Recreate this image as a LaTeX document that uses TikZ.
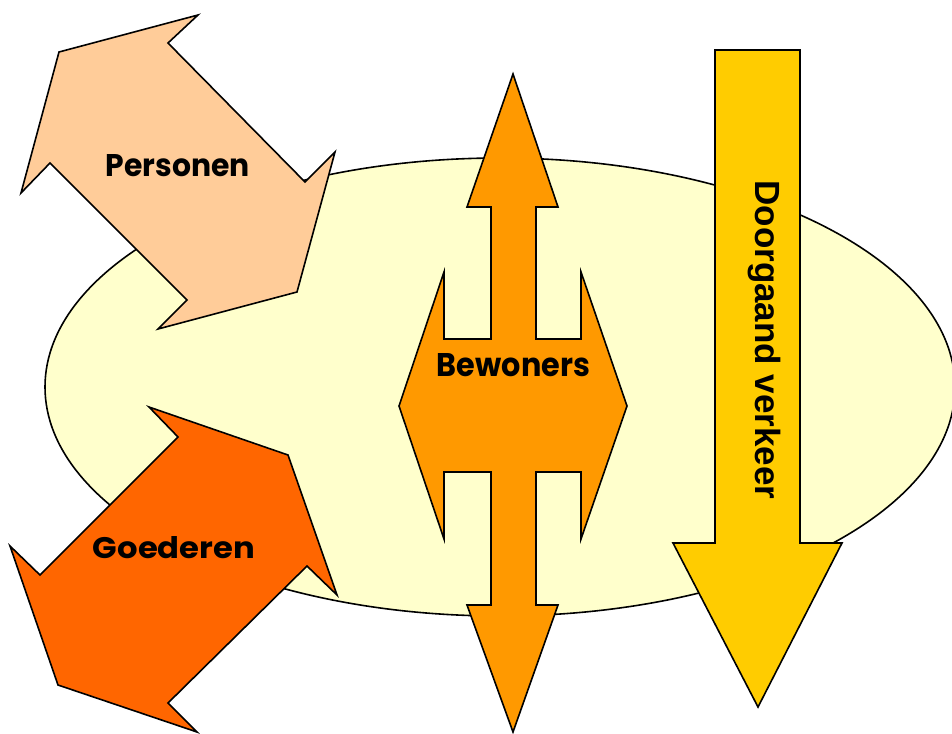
\documentclass[tikz,border=0pt]{standalone}
\usepackage{fontspec}
\setmainfont{Liberation Sans}
\newfontfamily\gothic{Poppins}
\usepackage{graphicx}
\definecolor{ellfill}{HTML}{FFFFCC}
\definecolor{persfill}{HTML}{FFCC99}
\definecolor{goedfill}{HTML}{FF6600}
\definecolor{bewfill}{HTML}{FF9900}
\definecolor{doorfill}{HTML}{FFCC00}
\begin{document}
\begin{tikzpicture}[x=1pt,y=-1pt,
  shp/.style={draw=black, line width=1.6pt, line join=miter, miter limit=20},
  lbl/.style={inner sep=0pt, outer sep=0pt}]
\useasboundingbox (0,0) rectangle (952,733);
\fill[white] (0,0) rectangle (952,733);
% zone ellipse
\draw[shp, fill=ellfill] (500,387) ellipse [x radius=455pt, y radius=229pt];
% Personen
\draw[shp, fill=persfill] (335,152) -- (297,292) -- (158,329) -- (187,300) -- (50,163) -- (21,193) -- (59,52) -- (198,15) -- (168,43) -- (305,182) -- cycle;
% Goederen
\draw[shp, fill=goedfill] (149,407) -- (178,437) -- (40,575) -- (10,546) -- (58,685) -- (197,732) -- (168,703) -- (307,566) -- (337,595) -- (288,455) -- cycle;
% Bewoners
\draw[shp, fill=bewfill] (513,74) -- (558,207) -- (536,207) -- (536,339) -- (581,339) -- (581,272) -- (627,406) -- (581,539) -- (581,472) -- (536,472) -- (536,605) -- (558,605) -- (513,732) -- (467,605) -- (491,605) -- (491,472) -- (444,472) -- (444,539) -- (399,406) -- (444,272) -- (444,339) -- (491,339) -- (491,207) -- (467,207) -- cycle;
% Doorgaand verkeer
\draw[shp, fill=doorfill] (715,50) -- (800,50) -- (800,543) -- (842,543) -- (758,707) -- (673,543) -- (715,543) -- cycle;
% labels
\node[lbl] (pers) at (178,166) {\resizebox{144pt}{22pt}{\gothic\bfseries Personen}};
\node[lbl] (goed) at (174,548) {\resizebox{162pt}{22pt}{\gothic\bfseries Goederen}};
\node[lbl] (bew) at (513.5,365) {\resizebox{153pt}{23pt}{\gothic\bfseries Bewoners}};
\node[lbl, rotate=-90] (door) at (764,340) {\fontsize{35pt}{40pt}\selectfont\bfseries Doorgaand verkeer};
\end{tikzpicture}
\end{document}
